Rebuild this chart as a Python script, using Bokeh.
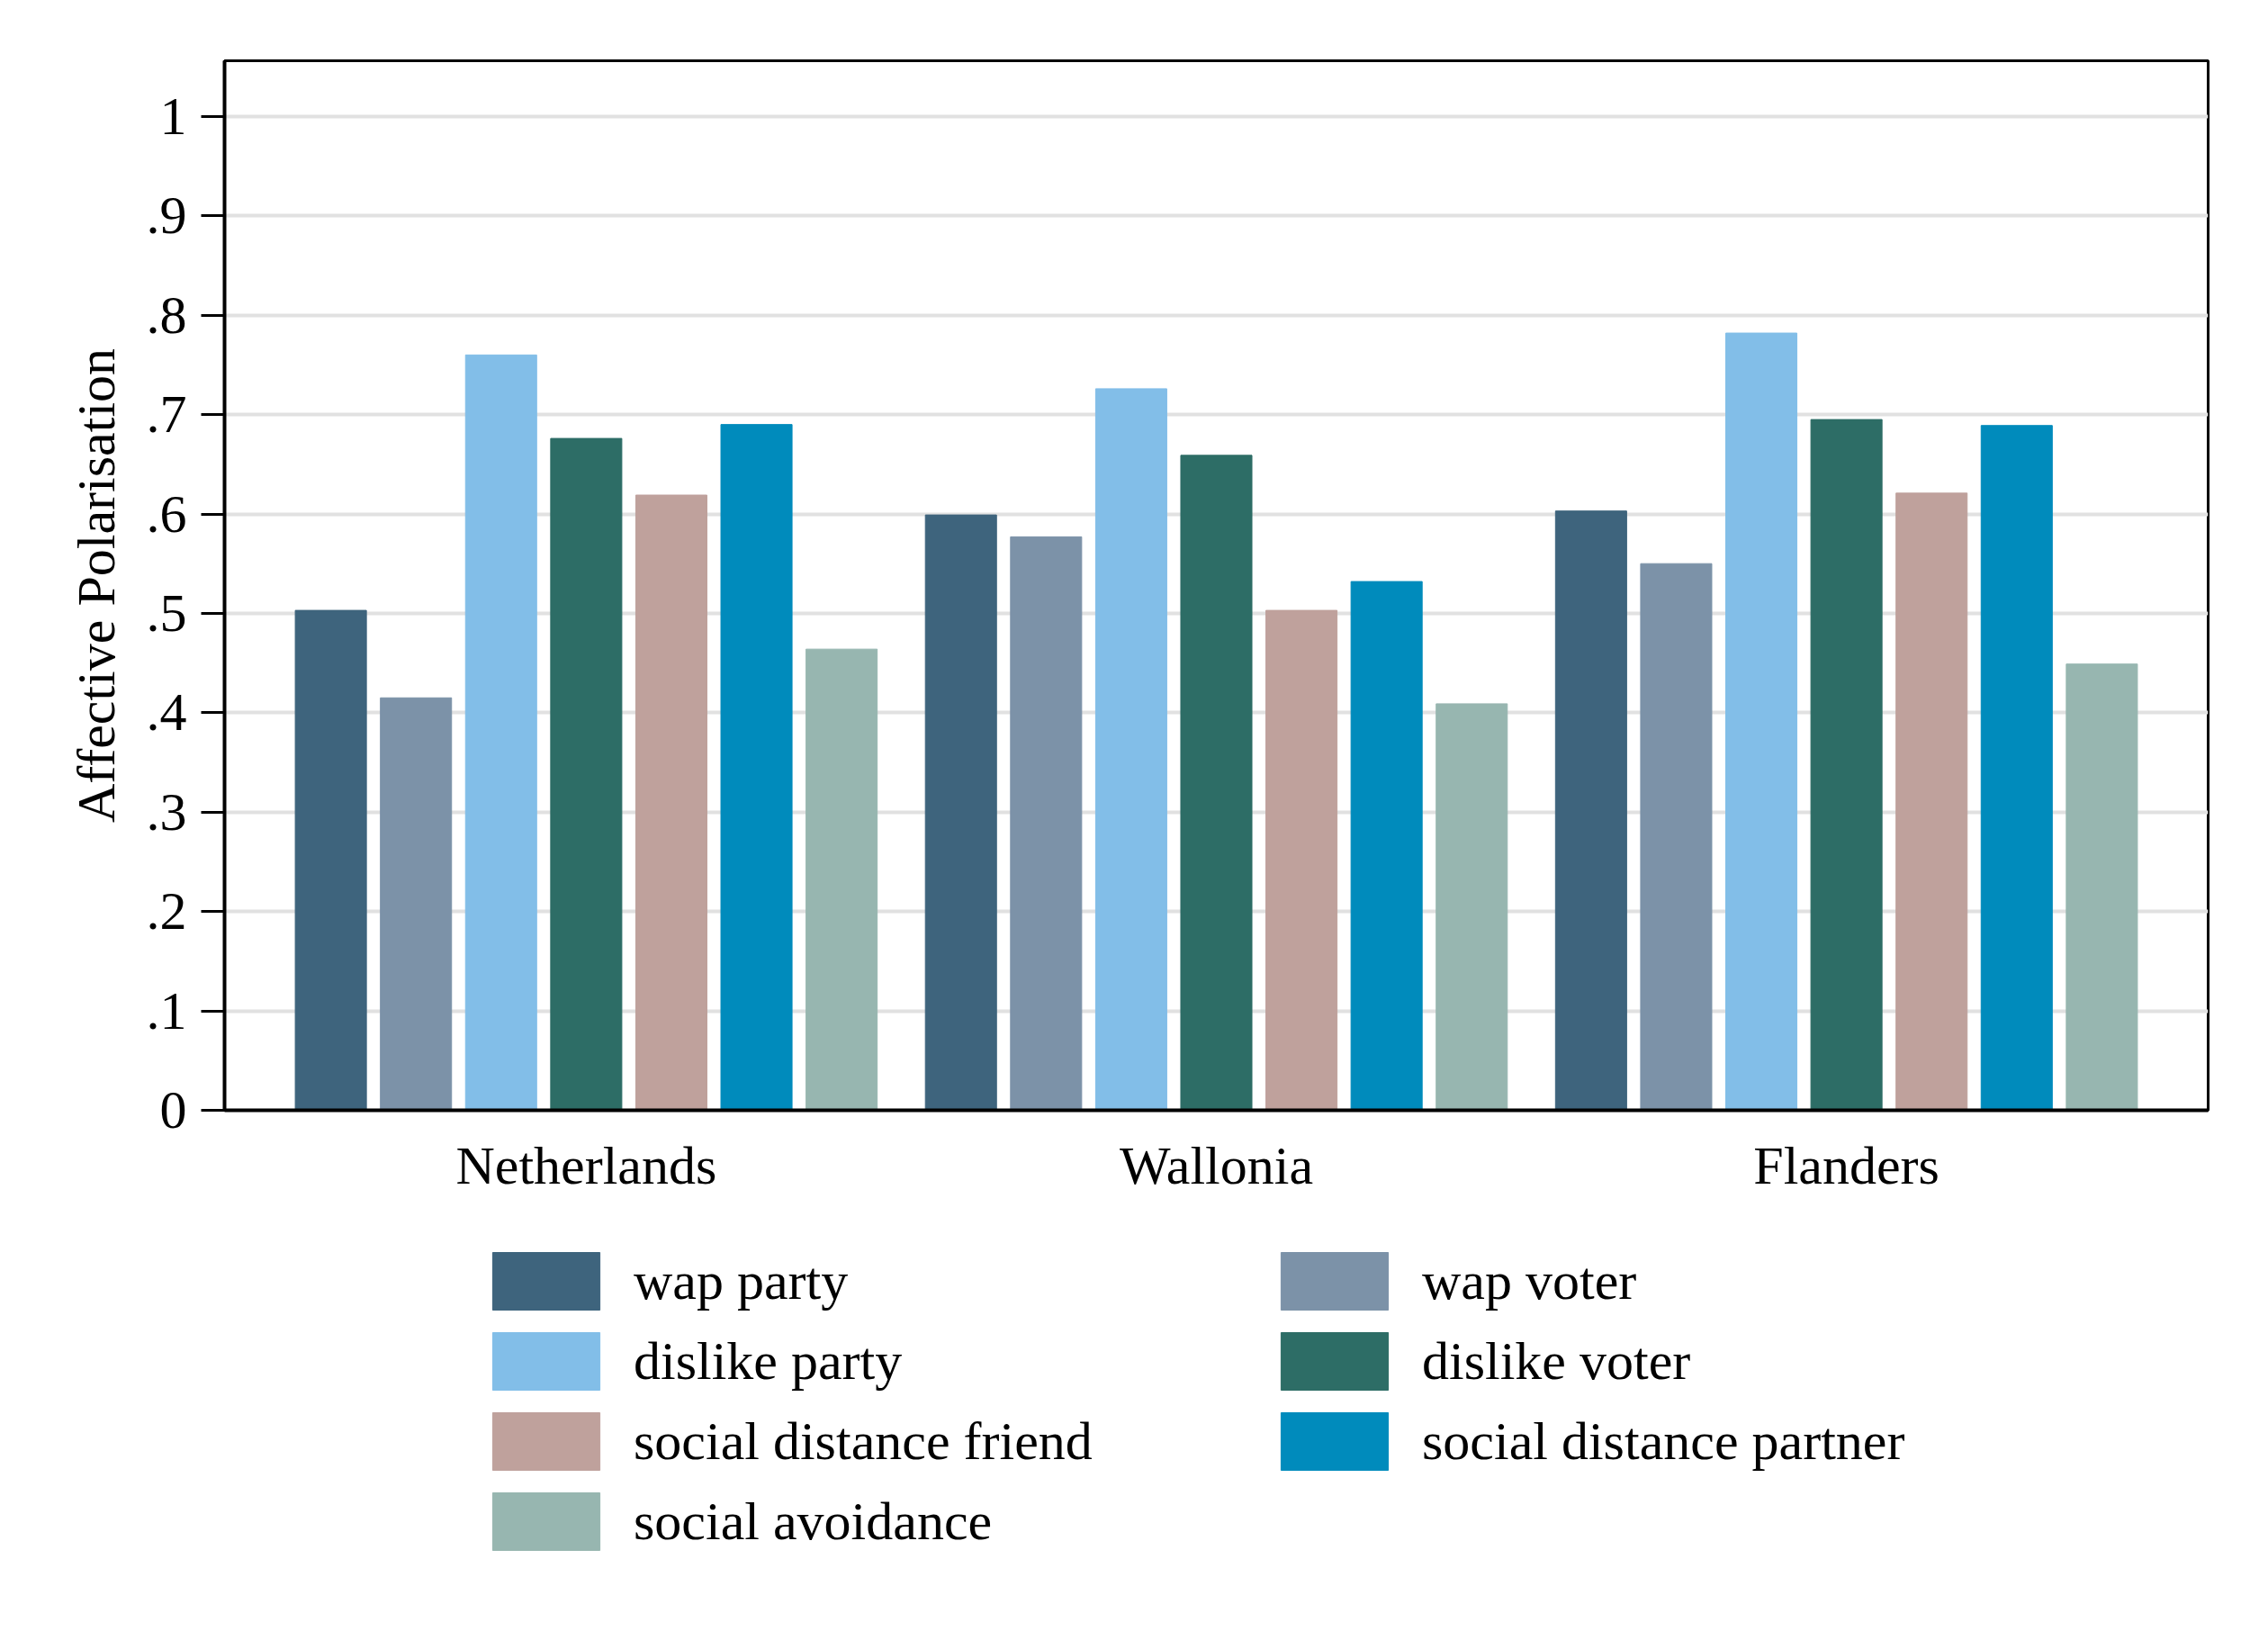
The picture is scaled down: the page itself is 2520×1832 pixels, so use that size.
from bokeh.plotting import figure
from bokeh.layouts import column
from bokeh.models import (ColumnDataSource, FactorRange, Range1d, FixedTicker,
                          CustomJSTickFormatter, Legend, LegendItem)
from bokeh.transform import dodge
from bokeh.embed import file_html
from bokeh.resources import INLINE

# ---------------- data ----------------
countries = ["Netherlands", "Wallonia", "Flanders"]
series_labels = ["wap party", "wap voter", "dislike party", "dislike voter",
                 "social distance friend", "social distance partner", "social avoidance"]
wap_party = [0.503, 0.599, 0.603]
wap_voter = [0.415, 0.577, 0.550]
dislike_party = [0.760, 0.726, 0.782]
dislike_voter = [0.676, 0.659, 0.695]
sd_friend = [0.619, 0.503, 0.621]
sd_partner = [0.690, 0.532, 0.689]
social_avoidance = [0.464, 0.409, 0.449]
y_ticks = [0.0, 0.1, 0.2, 0.3, 0.4, 0.5, 0.6, 0.7, 0.8, 0.9, 1.0]
colors = ["#3E647D", "#7C92A8", "#82BEE8", "#2D6D66", "#BFA19C", "#008BBC", "#97B6B0"]

cols = ["wap_party", "wap_voter", "dislike_party", "dislike_voter",
        "sd_friend", "sd_partner", "social_avoidance"]
source = ColumnDataSource(dict(country=countries, wap_party=wap_party, wap_voter=wap_voter,
                               dislike_party=dislike_party, dislike_voter=dislike_voter,
                               sd_friend=sd_friend, sd_partner=sd_partner,
                               social_avoidance=social_avoidance))

FONT = "Liberation Serif"
FS = "60px"

p = figure(width=2512, height=1330,
           x_range=FactorRange(factors=countries, range_padding=0.074,
                               range_padding_units="absolute"),
           y_range=Range1d(0, 1.056),
           output_backend="svg", toolbar_location=None,
           min_border_left=249, min_border_right=59, min_border_top=67,
           min_border_bottom=95)
p.background_fill_color = "white"
p.border_fill_color = "white"
p.outline_line_color = "black"
p.outline_line_width = 3

pitch = 0.1351
bar_w = 0.1129
for i, (c, col) in enumerate(zip(cols, colors)):
    p.vbar(x=dodge("country", (i - 3) * pitch, range=p.x_range), top=c,
           width=bar_w, bottom=0, source=source,
           fill_color=col, line_color=col, line_width=1)

# grid
p.xgrid.grid_line_color = None
p.ygrid.grid_line_color = "#E1E1E1"
p.ygrid.grid_line_width = 4

# y axis
p.yaxis.ticker = FixedTicker(ticks=y_ticks)
p.yaxis.formatter = CustomJSTickFormatter(
    code="if (tick <= 0) return '0'; if (tick >= 1) return '1'; return tick.toFixed(1).replace(/^0/, '');")
p.yaxis.axis_label = "Affective Polarisation"
p.yaxis.axis_label_text_font = FONT
p.yaxis.axis_label_text_font_size = FS
p.yaxis.axis_label_text_font_style = "normal"
p.yaxis.axis_label_text_color = "black"
p.yaxis.axis_label_standoff = 20
p.yaxis.major_label_text_font = FONT
p.yaxis.major_label_text_font_size = FS
p.yaxis.major_label_text_color = "black"
p.yaxis.major_label_standoff = 16
p.yaxis.major_tick_out = 26
p.yaxis.major_tick_in = 0
p.yaxis.major_tick_line_width = 3
p.yaxis.major_tick_line_color = "black"
p.yaxis.minor_tick_line_color = None
p.yaxis.axis_line_color = "black"
p.yaxis.axis_line_width = 4
p.yaxis.major_label_orientation = "horizontal"

# x axis
p.xaxis.major_label_text_font = FONT
p.xaxis.major_label_text_font_size = FS
p.xaxis.major_label_text_color = "black"
p.xaxis.major_label_standoff = 22
p.xaxis.major_tick_line_color = None
p.xaxis.minor_tick_line_color = None
p.xaxis.axis_line_color = "black"
p.xaxis.axis_line_width = 4

# ---------------- legend panel (separate figure below) ----------------
lf = figure(width=2512, height=490,
            x_range=FactorRange(factors=countries), y_range=Range1d(2, 3),
            x_axis_type=None, y_axis_type=None,
            output_backend="svg", toolbar_location=None,
            min_border_left=0, min_border_right=0, min_border_top=0, min_border_bottom=0)
lf.outline_line_color = None
lf.background_fill_color = "white"
lf.border_fill_color = "white"
lf.xgrid.grid_line_color = None
lf.ygrid.grid_line_color = None

leg_renderers = []
for i, (c, col) in enumerate(zip(cols, colors)):
    r = lf.vbar(x=dodge("country", (i - 3) * pitch, range=lf.x_range), top=c,
                width=bar_w, bottom=0, source=source,
                fill_color=col, line_color=col, line_width=1)
    leg_renderers.append(r)

items = [LegendItem(label=lab, renderers=[r]) for lab, r in zip(series_labels, leg_renderers)]
legend = Legend(items=items, location=(283, 90), orientation="horizontal", ncols=2,
                glyph_width=149, glyph_height=80, label_standoff=23, spacing=9,
                padding=0, margin=0, label_width=695,
                label_text_font=FONT, label_text_font_size=FS, label_text_color="black",
                border_line_color=None, background_fill_alpha=0)
lf.add_layout(legend)

layout = column(p, lf)
open("out.html", "w").write(file_html(layout, INLINE))
